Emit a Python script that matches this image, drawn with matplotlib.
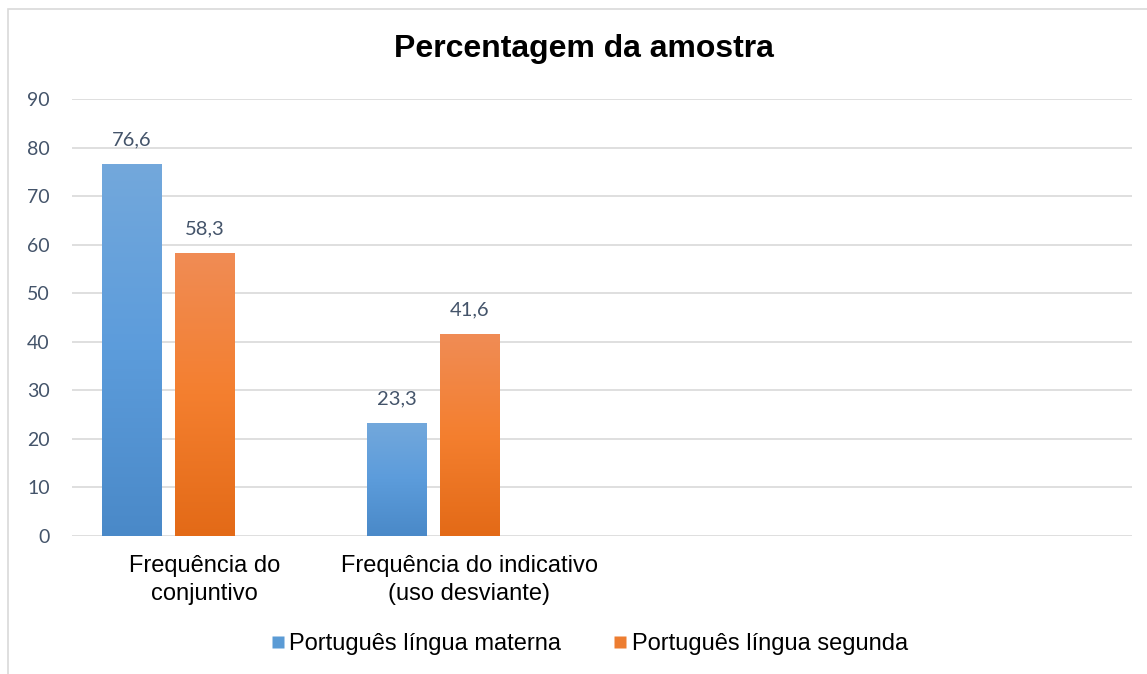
import numpy as np
import matplotlib
matplotlib.use("Agg")
import matplotlib.pyplot as plt
from matplotlib.colors import LinearSegmentedColormap
from matplotlib.patches import Rectangle
from matplotlib.lines import Line2D

# data
categories = ["Frequência do\nconjuntivo", "Frequência do indicativo\n(uso desviante)", "", ""]
series_names = ["Português língua materna", "Português língua segunda"]
materna = [76.6, 23.3]
segunda = [58.3, 41.6]
yticks = [0, 10, 20, 30, 40, 50, 60, 70, 80, 90]

blue_cmap = LinearSegmentedColormap.from_list("b", ["#4A89C8", "#5C9CDB", "#73A8DC"])
orange_cmap = LinearSegmentedColormap.from_list("o", ["#E36A17", "#F47F2F", "#F08C55"])
tick_col = "#44546A"

fig = plt.figure(figsize=(11.47, 6.74), dpi=100)
ax = fig.add_axes([72 / 1147, 1 - 536 / 674, 1060 / 1147, 437 / 674])

width = 60 / 265
step = 73 / 265
grad = np.linspace(0, 1, 256).reshape(-1, 1)


def gradient_bars(vals, offset, cmap):
    x = np.arange(len(vals)) + offset
    bars = ax.bar(x, vals, width=width, color="none", edgecolor="none", zorder=3)
    for b, v in zip(bars, vals):
        x0 = b.get_x()
        im = ax.imshow(grad, cmap=cmap, origin="lower", aspect="auto",
                       extent=[x0, x0 + width, 0, v], zorder=3)
        im.set_clip_path(b)
        ax.annotate(f"{v:.1f}".replace(".", ","), (x0 + width / 2, v),
                    xytext=(0, 11), textcoords="offset points", ha="center",
                    va="bottom", fontsize=14.5, color=tick_col, family="Lato")
    return bars


gradient_bars(materna, -step, blue_cmap)
gradient_bars(segunda, 0, orange_cmap)

ax.set_xlim(-0.5, len(categories) - 0.5)
ax.set_ylim(0, 90)
ax.set_yticks(yticks)
ax.set_yticklabels([str(t) for t in yticks], fontsize=14, color=tick_col, family="Lato")
ax.set_xticks(range(len(categories)))
ax.set_xticklabels(categories, fontsize=17, family="Liberation Sans", linespacing=1.35)
ax.tick_params(axis="both", length=0)
ax.tick_params(axis="x", pad=14)
ax.tick_params(axis="y", pad=16)
ax.grid(axis="y", color="#D9D9D9", linewidth=1.2, zorder=0)
for s in ax.spines.values():
    s.set_visible(False)

fig.text(584 / 1147, 1 - 49 / 674, "Percentagem da amostra", ha="center", va="center",
         fontsize=23, fontweight="bold", family="Liberation Sans")

handles = [Line2D([], [], marker="s", linestyle="none", markersize=8.5, markerfacecolor="#5B9BD5", markeredgecolor="none"),
           Line2D([], [], marker="s", linestyle="none", markersize=8.5, markerfacecolor="#ED7D31", markeredgecolor="none")]
fig.legend(handles, series_names, loc="center", bbox_to_anchor=(587 / 1147, 1 - 644 / 674),
           ncol=2, frameon=False, prop={"family": "Liberation Sans", "size": 17},
           handletextpad=0.0, columnspacing=2.0, handlelength=1.0)

# chart border
fig.patches.append(Rectangle((8 / 1147, -0.1), 1.2, 1 - 9 / 674 + 0.1, transform=fig.transFigure,
                             fill=False, edgecolor="#D9D9D9", linewidth=1.2))

fig.savefig("out.png", dpi=100)
